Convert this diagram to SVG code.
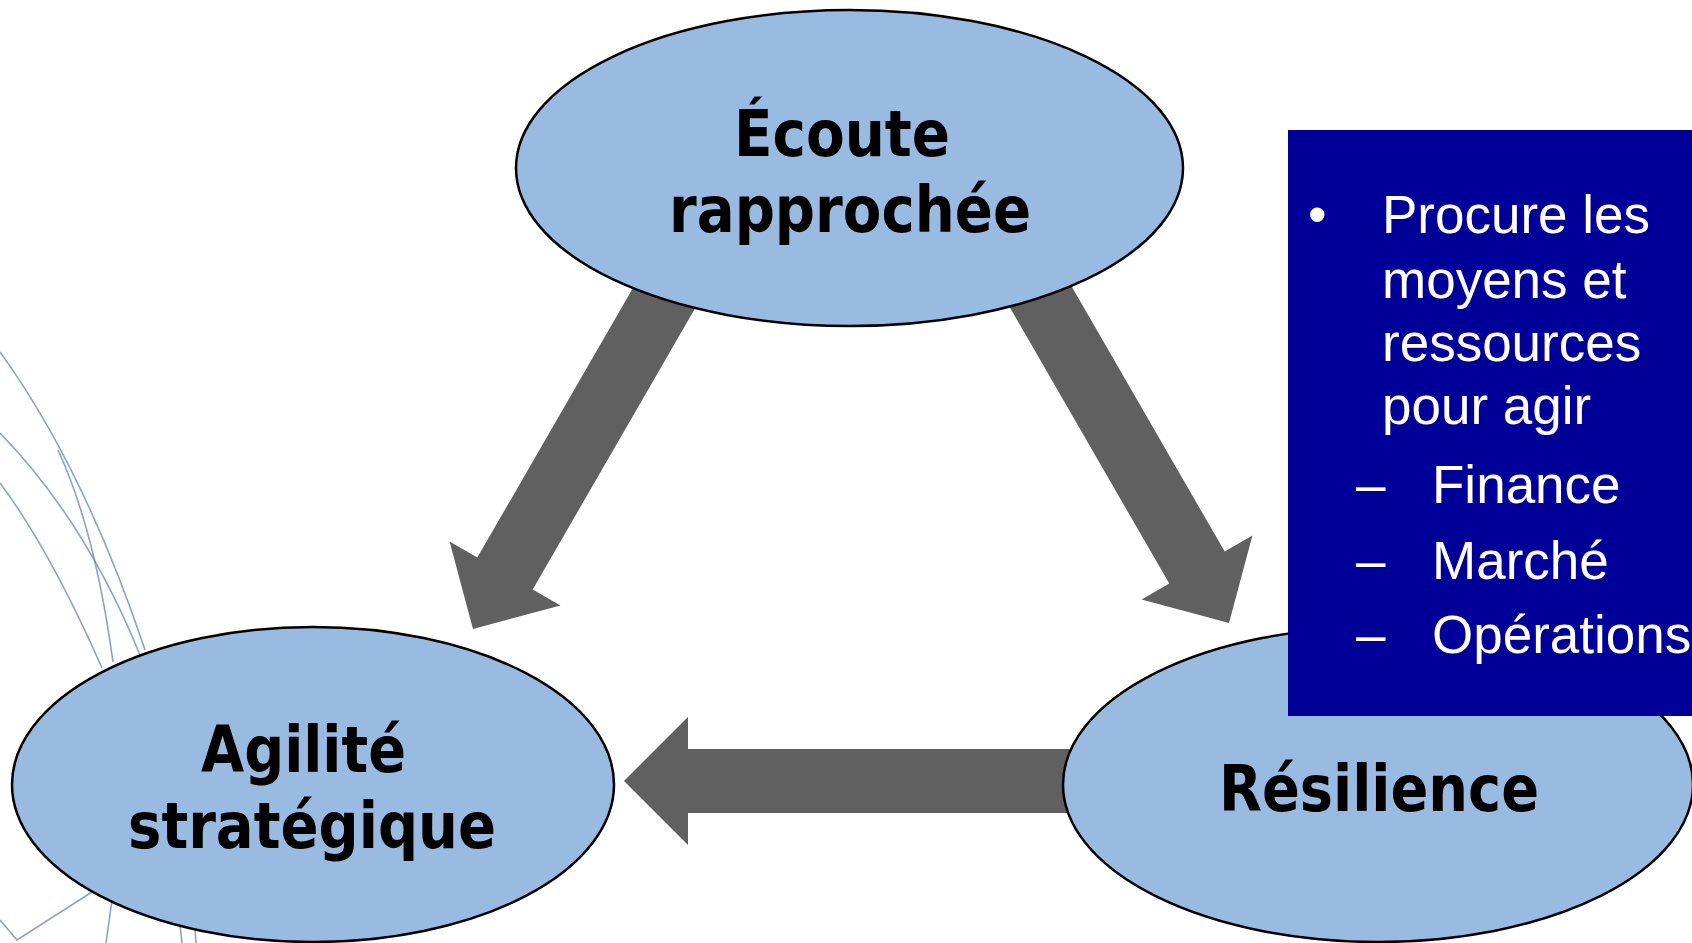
<svg xmlns="http://www.w3.org/2000/svg" width="1692" height="943" viewBox="0 0 1692 943">
<style>
.deco{fill:none;stroke:#5f87b0;stroke-width:1.6;opacity:0.75}
.arrow{fill:#606060}
.node{fill:#9ABBE1;stroke:#000;stroke-width:2.5}
.lbl{font-family:"DejaVu Sans Condensed","DejaVu Sans",sans-serif;font-stretch:condensed;font-weight:bold;font-size:64px;fill:#000}
.box{fill:#000099}
.bt{font-family:"Liberation Sans",Arial,sans-serif;font-size:53px;fill:#fff}
</style>
<defs>
<path id="arr" d="M0,0 L-64,-64 L-64,-32 L-460,-32 L-460,32 L-64,32 L-64,64 Z"/>
</defs>
<rect width="1692" height="943" fill="#fff"/>
<g id="decoration">
<path class="deco" d="M0,352 Q85,470 145,650"/>
<path class="deco" d="M58,450 Q95,530 113,662"/>
<path class="deco" d="M0,433 Q85,520 140,655"/>
<path class="deco" d="M0,483 Q50,550 102,668"/>
<path class="deco" d="M0,920 L17,940 L92,892"/>
<path class="deco" d="M112,900 L106,943"/>
<path class="deco" d="M180,925 L182,943"/>
<path class="deco" d="M195,929 L196,943"/>
</g>
<g id="connectors">
<use href="#arr" class="arrow" transform="translate(473,629) rotate(120)"/>
<use href="#arr" class="arrow" transform="translate(1229,623) rotate(60)"/>
<use href="#arr" class="arrow" transform="translate(624,781) rotate(180)"/>
</g>
<g id="node-ecoute">
<ellipse class="node" cx="849.5" cy="168" rx="333.5" ry="158"/>
<text class="lbl" x="734" y="156" textLength="216" lengthAdjust="spacingAndGlyphs">Écoute</text>
<text class="lbl" x="669" y="232" textLength="362" lengthAdjust="spacingAndGlyphs">rapprochée</text>
</g>
<g id="node-agilite">
<ellipse class="node" cx="313" cy="784.5" rx="301" ry="157.5"/>
<text class="lbl" x="201" y="772" textLength="205" lengthAdjust="spacingAndGlyphs">Agilité</text>
<text class="lbl" x="128" y="848" textLength="368" lengthAdjust="spacingAndGlyphs">stratégique</text>
</g>
<g id="node-resilience">
<ellipse class="node" cx="1378" cy="784.5" rx="315" ry="157.5"/>
<text class="lbl" x="1219" y="811" textLength="320" lengthAdjust="spacingAndGlyphs">Résilience</text>
</g>
<g id="node-box">
<rect class="box" x="1288" y="130" width="404" height="586"/>
<text class="bt" x="1308" y="233">•</text>
<text class="bt" x="1382" y="233">Procure les</text>
<text class="bt" x="1382" y="298">moyens et</text>
<text class="bt" x="1382" y="361">ressources</text>
<text class="bt" x="1382" y="424">pour agir</text>
<text class="bt" x="1356" y="503">–</text>
<text class="bt" x="1432" y="503">Finance</text>
<text class="bt" x="1356" y="579">–</text>
<text class="bt" x="1432" y="579">Marché</text>
<text class="bt" x="1356" y="653">–</text>
<text class="bt" x="1432" y="653">Opérations</text>
</g>
</svg>
